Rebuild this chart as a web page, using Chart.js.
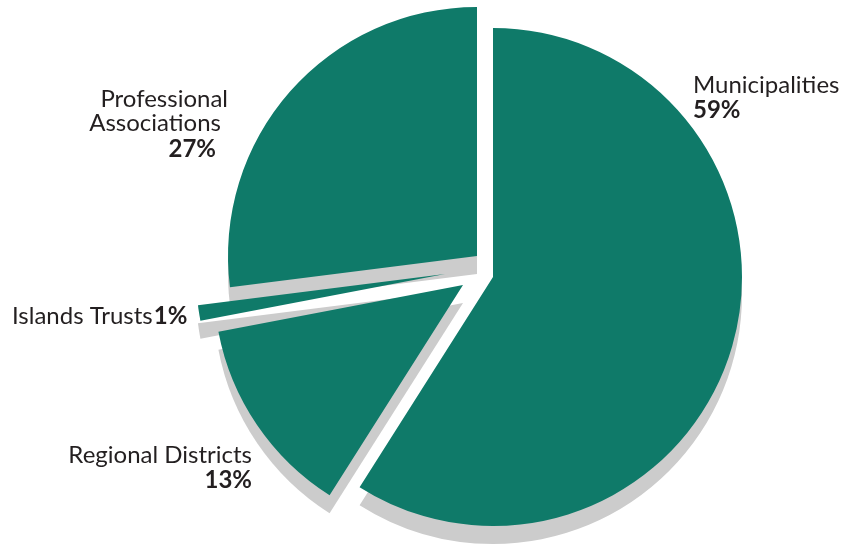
<!DOCTYPE html>
<html>
<head>
<meta charset="utf-8">
<script src="https://cdn.jsdelivr.net/npm/chart.js@4/dist/chart.umd.min.js"></script>
<style>
  html, body { margin: 0; padding: 0; background: #ffffff; }
  #chart { display: block; }
</style>
</head>
<body>
<canvas id="chart" width="841" height="546"></canvas>
<script>
// Share of members by organisation type
const categories = ['Municipalities', 'Regional Districts', 'Islands Trusts', 'Professional Associations'];
const shares = [59, 13, 1, 27];
const shareLabels = ['59%', '13%', '1%', '27%'];

// Styling
const SLICE_COLOR = '#0f7a69';
const SHADOW_COLOR = '#cccccc';
const TEXT_COLOR = '#231f20';
const SHADOW_OFFSET = { x: 0, y: 18 };
// How far each wedge is pulled out of the pie (px, in slice order)
const sliceShift = [[0, 0], [-30, 8], [-48, -3], [-16, -21]];

const FONT_FAMILY = 'Lato, "Open Sans", sans-serif';
const FONT_SIZE = 24;

// Label placement: one entry per slice, each line drawn at its own baseline
const labelLayout = [
  { lines: [{ text: categories[0], x: 693, y: 93, align: 'left' },
            { text: shareLabels[0], x: 693, y: 118, align: 'left', bold: true }] },
  { lines: [{ text: categories[1], x: 252, y: 463, align: 'right' },
            { text: shareLabels[1], x: 252, y: 488, align: 'right', bold: true }] },
  { inline: { name: categories[2], pct: shareLabels[2], x: 12, y: 324 } },
  { lines: [{ text: categories[3].split(' ')[0], x: 228, y: 107, align: 'right' },
            { text: categories[3].split(' ')[1], x: 221, y: 131, align: 'right' },
            { text: shareLabels[3], x: 216, y: 157, align: 'right', bold: true }] }
];

// Moves each wedge to its exploded position and paints a flat drop shadow beneath it
const explodedShadow = {
  id: 'explodedShadow',
  afterDatasetsUpdate(chart) {
    chart.getDatasetMeta(0).data.forEach((arc, i) => {
      arc.x += sliceShift[i][0];
      arc.y += sliceShift[i][1];
    });
  },
  beforeDatasetsDraw(chart) {
    const ctx = chart.ctx;
    ctx.save();
    ctx.fillStyle = SHADOW_COLOR;
    chart.getDatasetMeta(0).data.forEach(arc => {
      const p = arc.getProps(['x', 'y', 'startAngle', 'endAngle', 'outerRadius']);
      const cx = p.x + SHADOW_OFFSET.x;
      const cy = p.y + SHADOW_OFFSET.y;
      ctx.beginPath();
      ctx.moveTo(cx, cy);
      ctx.arc(cx, cy, p.outerRadius, p.startAngle, p.endAngle);
      ctx.closePath();
      ctx.fill();
    });
    ctx.restore();
  }
};

// Category names with their percentages
const sliceLabels = {
  id: 'sliceLabels',
  afterDraw(chart) {
    const ctx = chart.ctx;
    const regular = `${FONT_SIZE}px ${FONT_FAMILY}`;
    const bold = `bold ${FONT_SIZE}px ${FONT_FAMILY}`;
    ctx.save();
    ctx.fillStyle = TEXT_COLOR;
    ctx.textBaseline = 'alphabetic';
    labelLayout.forEach(entry => {
      if (entry.lines) {
        entry.lines.forEach(line => {
          ctx.font = line.bold ? bold : regular;
          ctx.textAlign = line.align;
          ctx.fillText(line.text, line.x, line.y);
        });
      } else {
        const { name, pct, x, y } = entry.inline;
        ctx.textAlign = 'left';
        ctx.font = regular;
        ctx.fillText(name, x, y);
        const w = ctx.measureText(name).width;
        ctx.font = bold;
        ctx.fillText(pct, x + w + 1, y);
      }
    });
    ctx.restore();
  }
};

new Chart(document.getElementById('chart'), {
  type: 'pie',
  data: {
    labels: categories,
    datasets: [{
      data: shares,
      backgroundColor: SLICE_COLOR,
      borderWidth: 0
    }]
  },
  options: {
    responsive: false,
    animation: false,
    events: [],
    radius: 249,
    layout: { padding: { left: 233, right: 88, top: 17, bottom: 9 } },
    plugins: {
      legend: { display: false },
      tooltip: { enabled: false }
    }
  },
  plugins: [explodedShadow, sliceLabels]
});
</script>
</body>
</html>
